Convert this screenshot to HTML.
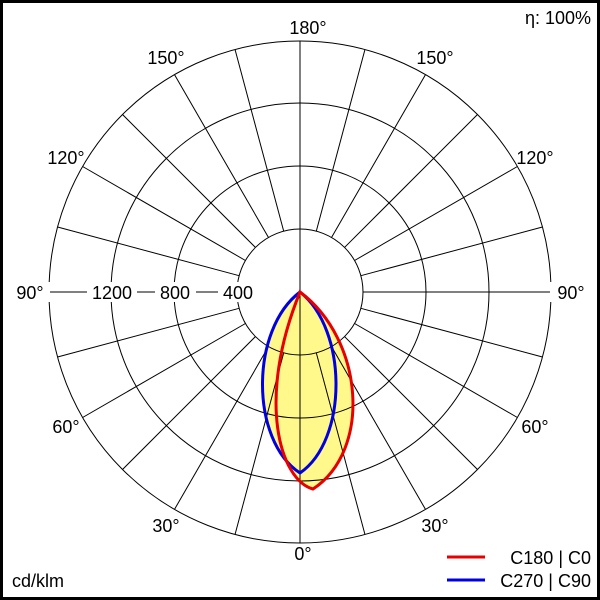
<!DOCTYPE html>
<html><head><meta charset="utf-8"><style>
html,body{margin:0;padding:0;background:#fff}
svg{display:block}
text{font-family:"Liberation Sans",Arial,sans-serif;font-size:18px;fill:#000}
</style></head><body>
<svg width="600" height="600" viewBox="0 0 600 600">
<rect x="1.5" y="1.5" width="597" height="597" fill="#fff" stroke="#000" stroke-width="3"/>
<path d="M300,292 C250,330 250,440 300,473 C348,440 348,330 300,292 Z" fill="#fff98c"/>
<path d="M300,292 C364,340 372,450 313,489 C280,480 256,400 300,292 Z" fill="#fff98c"/>
<g fill="none" stroke="#000" stroke-width="1" id="sp">
<circle cx="300" cy="292" r="63"/>
<circle cx="300" cy="292" r="126"/>
<circle cx="300" cy="292" r="189"/>
<circle cx="300" cy="292" r="251"/>
<line x1="300" y1="292" x2="300" y2="543"/>
<line x1="300" y1="292" x2="300" y2="41"/>
<line x1="237" y1="292" x2="49" y2="292"/>
<line x1="363" y1="292" x2="551" y2="292"/>
</g>
<rect x="218" y="282" width="40" height="20" fill="#fff"/>
<rect x="155" y="282" width="41" height="20" fill="#fff"/>
<rect x="87" y="282" width="50" height="20" fill="#fff"/>
<rect x="12" y="282" width="38" height="20" fill="#fff"/>
<rect x="550" y="282" width="38" height="20" fill="#fff"/>
<path d="M300,292 C250,330 250,440 300,473 C348,440 348,330 300,292 Z" fill="none" stroke="#0000e0" stroke-width="3"/>
<path d="M300,292 C364,340 372,450 313,489 C280,480 256,400 300,292 Z" fill="none" stroke="#e80000" stroke-width="3"/>
<text x="308" y="34" text-anchor="middle">180°</text>
<text x="166" y="64" text-anchor="middle">150°</text>
<text x="435" y="64" text-anchor="middle">150°</text>
<text x="66" y="164" text-anchor="middle">120°</text>
<text x="535" y="164" text-anchor="middle">120°</text>
<text x="30" y="299" text-anchor="middle">90°</text>
<text x="571" y="299" text-anchor="middle">90°</text>
<text x="66" y="433" text-anchor="middle">60°</text>
<text x="535" y="433" text-anchor="middle">60°</text>
<text x="166" y="532" text-anchor="middle">30°</text>
<text x="435" y="532" text-anchor="middle">30°</text>
<text x="303" y="560" text-anchor="middle">0°</text>
<text x="238" y="299" text-anchor="middle">400</text>
<text x="175" y="299" text-anchor="middle">800</text>
<text x="112" y="299" text-anchor="middle">1200</text>
<text x="591" y="24" text-anchor="end">η: 100%</text>
<text x="12" y="587">cd/klm</text>
<line x1="447" y1="557" x2="485" y2="557" stroke="#e80000" stroke-width="3"/>
<line x1="447" y1="580" x2="485" y2="580" stroke="#0000e0" stroke-width="3"/>
<text x="591" y="564" text-anchor="end">C180 | C0</text>
<text x="591" y="587" text-anchor="end">C270 | C90</text>
</svg>
<script>
var g=document.getElementById('sp'),ns='http://www.w3.org/2000/svg';
for(var a=0;a<360;a+=15){if(a%90==0)continue;var r=a*Math.PI/180,c=Math.cos(r),s=Math.sin(r);
var l=document.createElementNS(ns,'line');l.setAttribute('x1',300+63*s);l.setAttribute('y1',292+63*c);l.setAttribute('x2',300+251*s);l.setAttribute('y2',292+251*c);g.appendChild(l);}
</script>
</body></html>
